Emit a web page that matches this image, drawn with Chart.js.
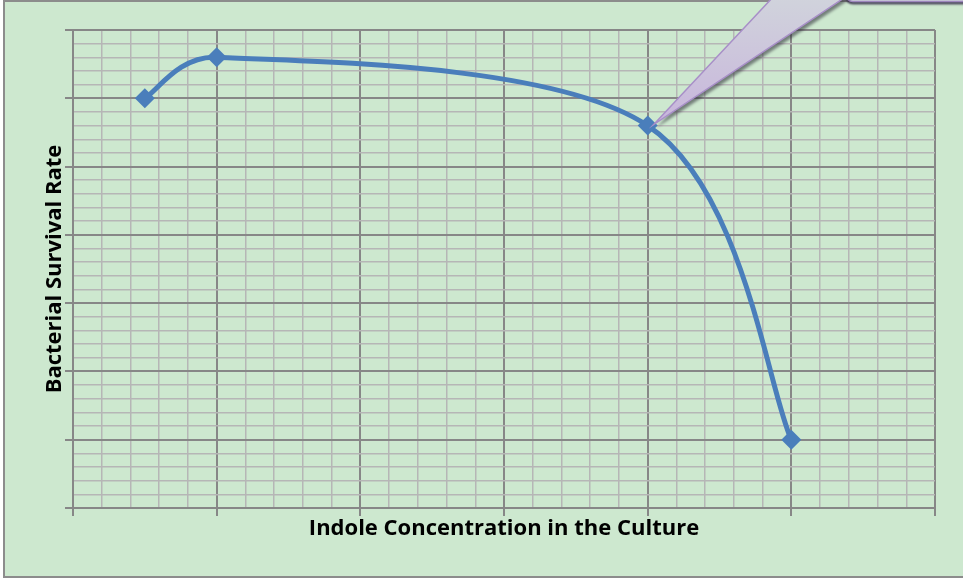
<!DOCTYPE html>
<html>
<head>
<meta charset="utf-8">
<script src="https://cdn.jsdelivr.net/npm/chart.js@4"></script>
<style>
  html, body { margin: 0; padding: 0; background: #ffffff; }
  #wrap { width: 963px; height: 579px; }
</style>
</head>
<body>
<div id="wrap"><canvas id="survivalChart" width="963" height="579"></canvas></div>
<script>
// values
const indoleLevels = [0.5, 1, 4, 5];
const survivalRates = [6.0, 6.6, 5.6, 1.0];
const xMax = 6;
const yMax = 7;

const isMajor = (v) => Math.abs(v - Math.round(v)) < 1e-6;

// green frame behind the plot
const framePlugin = {
  id: "frame",
  beforeDraw(chart) {
    const ctx = chart.ctx;
    ctx.save();
    ctx.fillStyle = "#ffffff";
    ctx.fillRect(0, 0, chart.width, chart.height);
    ctx.fillStyle = "#cde8cf";
    ctx.fillRect(4, 1, chart.width + 10, 576);
    ctx.strokeStyle = "#8c8c8c";
    ctx.lineWidth = 2;
    ctx.strokeRect(4, 1, chart.width + 10, 576);
    ctx.restore();
  },
};

// Excel-like smoothing: tangent = (next - prev) / 6, kept short on short segments
const smoothPlugin = {
  id: "smooth",
  beforeDatasetsDraw(chart) {
    const meta = chart.getDatasetMeta(0);
    const line = meta.dataset;
    line.updateControlPoints(chart.chartArea, meta.iScale.axis);
    const pts = meta.data;
    const n = pts.length;
    for (let i = 0; i < n; i++) {
      const p = pts[i];
      const prev = pts[Math.max(i - 1, 0)];
      const next = pts[Math.min(i + 1, n - 1)];
      let tx = (next.x - prev.x) / 6;
      let ty = (next.y - prev.y) / 6;
      const tl = Math.hypot(tx, ty) || 1;
      const dPrev = Math.hypot(p.x - prev.x, p.y - prev.y);
      const dNext = Math.hypot(next.x - p.x, next.y - p.y);
      const kPrev = Math.min(1, (0.45 * dPrev) / tl);
      const kNext = Math.min(1, (0.45 * dNext) / tl);
      p.cp1x = p.x - tx * kPrev;
      p.cp1y = p.y - ty * kPrev;
      p.cp2x = p.x + tx * kNext;
      p.cp2y = p.y + ty * kNext;
    }
    line._path = undefined;
  },
};

// callout pointer from the top edge to the third point
const calloutPlugin = {
  id: "callout",
  afterDatasetsDraw(chart) {
    const ctx = chart.ctx;
    const px = chart.scales.x.getPixelForValue(indoleLevels[2]) + 6;
    const py = chart.scales.y.getPixelForValue(survivalRates[2]) - 1;
    ctx.save();
    const grad = ctx.createLinearGradient(0, -10, 0, py);
    grad.addColorStop(0, "#d1d5dc");
    grad.addColorStop(1, "#c8b5dc");
    // box bottom, mostly off the top edge
    ctx.shadowColor = "rgba(50,40,70,0.8)";
    ctx.shadowOffsetX = 0;
    ctx.shadowOffsetY = 3;
    ctx.shadowBlur = 2;
    ctx.fillStyle = grad;
    ctx.beginPath();
    ctx.roundRect(845, -120, 400, 121.5, 8);
    ctx.fill();
    ctx.shadowColor = "transparent";
    ctx.strokeStyle = "#9d86bd";
    ctx.lineWidth = 1.5;
    ctx.stroke();
    // pointer
    ctx.shadowColor = "rgba(40,40,50,0.55)";
    ctx.shadowOffsetX = 3;
    ctx.shadowOffsetY = 3;
    ctx.shadowBlur = 3;
    ctx.fillStyle = grad;
    ctx.beginPath();
    ctx.moveTo(px, py);
    ctx.lineTo(774, -4);
    ctx.lineTo(847, -4);
    ctx.closePath();
    ctx.fill();
    ctx.shadowColor = "transparent";
    ctx.strokeStyle = "#a88fc8";
    ctx.lineWidth = 1.5;
    ctx.beginPath();
    ctx.moveTo(774, -4);
    ctx.lineTo(px, py);
    ctx.lineTo(847, -4);
    ctx.stroke();
    ctx.restore();
  },
};

const ctxSurv = document.getElementById("survivalChart").getContext("2d");
const survivalChart = new Chart(ctxSurv, {
  type: "line",
  data: {
    datasets: [
      {
        data: indoleLevels.map((x, i) => ({ x: x, y: survivalRates[i] })),
        borderColor: "#4a7ebb",
        backgroundColor: "#4a7ebb",
        borderWidth: 5,
        tension: 0.4,
        pointStyle: "rectRot",
        pointRadius: 10,
        pointBorderWidth: 0,
        pointBackgroundColor: "#4a7ebb",
        fill: false,
      },
    ],
  },
  options: {
    responsive: false,
    animation: false,
    layout: { padding: { top: 30, right: 28, left: 0, bottom: 0 } },
    plugins: { legend: { display: false }, tooltip: { enabled: false } },
    scales: {
      x: {
        type: "linear",
        min: 0,
        max: xMax,
        afterFit: (scale) => { scale.height = 71; },
        ticks: { stepSize: 0.2, maxTicksLimit: 100, autoSkip: false, callback: () => "" },
        grid: {
          color: (c) => (isMajor(c.tick.value) ? "#878787" : "#b6b6b6"),
          lineWidth: (c) => (isMajor(c.tick.value) ? 2 : 1.5),
          tickColor: (c) => (isMajor(c.tick.value) ? "#878787" : "rgba(0,0,0,0)"),
          tickLength: 8,
        },
        border: { color: "#878787", width: 2 },
        title: {
          display: true,
          text: "Indole Concentration in the Culture",
          color: "#000000",
          font: { family: "Open Sans", size: 22, weight: "bold" },
          padding: { top: 0, bottom: 37 },
        },
      },
      y: {
        type: "linear",
        min: 0,
        max: yMax,
        afterFit: (scale) => { scale.width = 73; },
        ticks: { stepSize: 0.2, maxTicksLimit: 100, autoSkip: false, callback: () => "" },
        grid: {
          color: (c) => (isMajor(c.tick.value) ? "#878787" : "#b6b6b6"),
          lineWidth: (c) => (isMajor(c.tick.value) ? 2 : 1.5),
          tickColor: (c) => (isMajor(c.tick.value) ? "#878787" : "rgba(0,0,0,0)"),
          tickLength: 8,
        },
        border: { color: "#878787", width: 2 },
        title: {
          display: true,
          text: "Bacterial Survival Rate",
          color: "#000000",
          font: { family: "Open Sans", size: 22, weight: "bold" },
          padding: { top: 42, bottom: 0 },
        },
      },
    },
  },
  plugins: [framePlugin, smoothPlugin, calloutPlugin],
});
</script>
</body>
</html>
